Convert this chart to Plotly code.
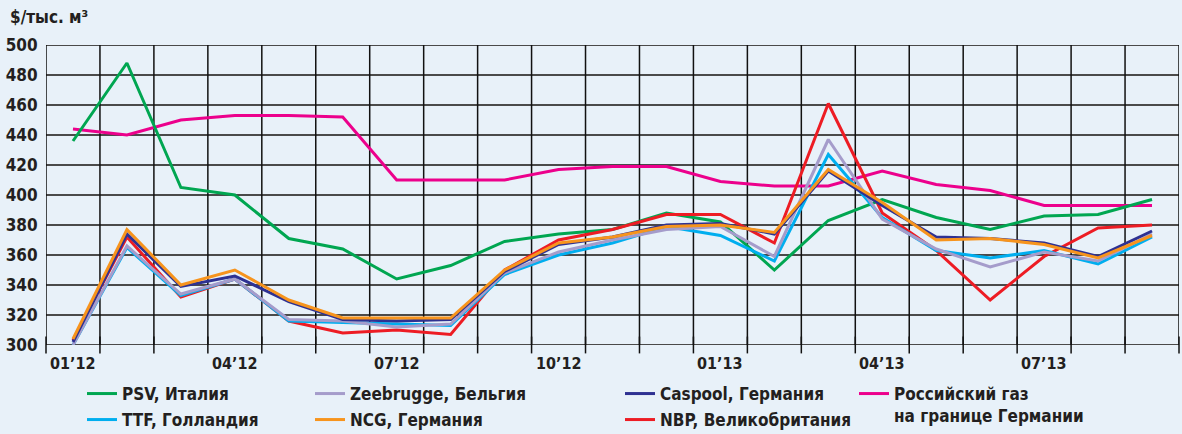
import plotly.graph_objects as go

months = ["01’12", "02’12", "03’12", "04’12", "05’12", "06’12", "07’12", "08’12", "09’12",
          "10’12", "11’12", "12’12", "01’13", "02’13", "03’13", "04’13", "05’13", "06’13",
          "07’13", "08’13", "09’13"]
label_every = 3
y_ticks = [300, 320, 340, 360, 380, 400, 420, 440, 460, 480, 500]

psv = [436, 488, 405, 400, 371, 364, 344, 353, 369, 374, 377, 388, 382, 350, 383, 397, 385, 377, 386, 387, 397]
ttf = [300, 365, 333, 344, 316, 315, 314, 313, 347, 360, 368, 379, 373, 356, 427, 385, 363, 358, 363, 354, 372]
zeebrugge = [300, 366, 334, 344, 317, 316, 312, 314, 348, 362, 370, 377, 379, 359, 437, 384, 364, 352, 362, 356, 374]
ncg = [304, 377, 340, 350, 330, 318, 318, 318, 350, 368, 372, 379, 380, 375, 417, 395, 370, 371, 367, 358, 373]
caspool = [302, 374, 339, 346, 329, 317, 316, 317, 349, 367, 372, 380, 381, 374, 416, 393, 372, 371, 368, 359, 376]
nbp = [303, 372, 332, 344, 316, 308, 310, 307, 350, 370, 377, 387, 387, 368, 461, 388, 363, 330, 359, 378, 380]
russia = [444, 440, 450, 453, 453, 452, 410, 410, 410, 417, 419, 419, 409, 406, 406, 416, 407, 403, 393, 393, 393]

FONT = "Liberation Sans Narrow, DejaVu Sans Condensed, Roboto Condensed, Arial Narrow, sans-serif"
TXT = "#231f20"
BG = "#e8f1f9"
VGRID = "#111111"
HGRID = "#4a4a4a"

x = list(range(len(months)))
bounds = [i - 0.5 for i in range(len(months) + 1)]
x_lo, x_hi = bounds[0], bounds[-1]
y_lo, y_hi = y_ticks[0], y_ticks[-1]

# (name, values, color, legend id, legend left px, legend row) in drawing order
series = [
    ("Российский газ<br>на границе Германии", russia, "#ec008c", "legend7", 854, 0),
    ("PSV, Италия", psv, "#00a651", "legend", 82, 1),
    ("NBP, Великобритания", nbp, "#ed1c24", "legend6", 620, 2),
    ("TTF, Голландия", ttf, "#00aeef", "legend2", 82, 2),
    ("Zeebrugge, Бельгия", zeebrugge, "#a59ccb", "legend3", 310, 1),
    ("Caspool, Германия", caspool, "#2e3192", "legend5", 620, 1),
    ("NCG, Германия", ncg, "#f7941d", "legend4", 310, 2),
]

L, R, T, B = 46, 3, 45, 89
W, H = 1182, 434
pw = W - L - R
ph = H - T - B


def px_x(p):
    return (p - L) / pw


def px_y(p):
    return (H - B - p) / ph


row_y = {1: 394, 2: 420, 0: 405}
LEGFONT = 17

fig = go.Figure()

# grid built from the category boundaries and the value ticks (drawn beneath the series)
gx, gy = [], []
for v in y_ticks:
    gx += [x_lo, x_hi, None]
    gy += [v, v, None]
fig.add_trace(go.Scatter(x=gx, y=gy, mode="lines", line=dict(color=HGRID, width=2),
                         showlegend=False, hoverinfo="skip"))
vx, vy = [], []
for b in bounds:
    vx += [b, b, None]
    vy += [y_lo, y_hi, None]
fig.add_trace(go.Scatter(x=vx, y=vy, mode="lines", line=dict(color=VGRID, width=1.5),
                         showlegend=False, hoverinfo="skip"))
# tick stubs below the bottom edge at every boundary
fig.add_trace(go.Scatter(x=bounds, y=[y_lo] * len(bounds), mode="markers", cliponaxis=False,
                         marker=dict(symbol="line-ns", size=12,
                                     line=dict(color=VGRID, width=1.5)),
                         showlegend=False, hoverinfo="skip"))

legends = {}
for name, vals, color, lg, lx, row in series:
    fig.add_trace(go.Scatter(x=x, y=vals, mode="lines", name=name,
                             line=dict(color=color, width=3), legend=lg))
    legends[lg] = dict(orientation="v", xanchor="left", yanchor="middle",
                       x=px_x(lx), y=px_y(row_y[row]),
                       bgcolor="rgba(0,0,0,0)", borderwidth=0,
                       font=dict(family=FONT, size=LEGFONT, color=TXT, weight="bold"),
                       itemwidth=30, valign="top")

fig.update_layout(
    width=W, height=H,
    margin=dict(l=L, r=R, t=T, b=B, pad=0, autoexpand=False),
    paper_bgcolor=BG, plot_bgcolor=BG,
    showlegend=True,
    font=dict(family=FONT, color=TXT),
    **legends,
)

fig.update_layout(
    xaxis=dict(
        range=[x_lo, x_hi], showticklabels=False, ticks="",
        showgrid=False, zeroline=False, showline=False,
    ),
    yaxis=dict(
        range=[y_lo, y_hi], tickmode="array", tickvals=y_ticks, ticktext=[str(v) for v in y_ticks],
        showgrid=False, zeroline=False, showline=False,
        ticks="outside", ticklen=4, tickwidth=1, tickcolor="rgba(0,0,0,0)",
        tickfont=dict(family=FONT, size=17, color=TXT, weight="bold"),
    ),
)

# month labels under every third cell
for i in x[::label_every]:
    fig.add_annotation(text=months[i], xref="x", yref="paper", x=i, y=px_y(363),
                       xanchor="center", yanchor="middle", showarrow=False,
                       font=dict(family=FONT, size=16, color=TXT, weight="bold"))

fig.add_annotation(text="$/тыс. м³", xref="paper", yref="paper", x=px_x(8), y=px_y(17),
                   xanchor="left", yanchor="middle", showarrow=False,
                   font=dict(family=FONT, size=17, color=TXT, weight="bold"))

fig.write_html("out.html", config={"displayModeBar": False},
               post_script="document.body.style.margin='0';document.body.style.overflow='hidden';")
